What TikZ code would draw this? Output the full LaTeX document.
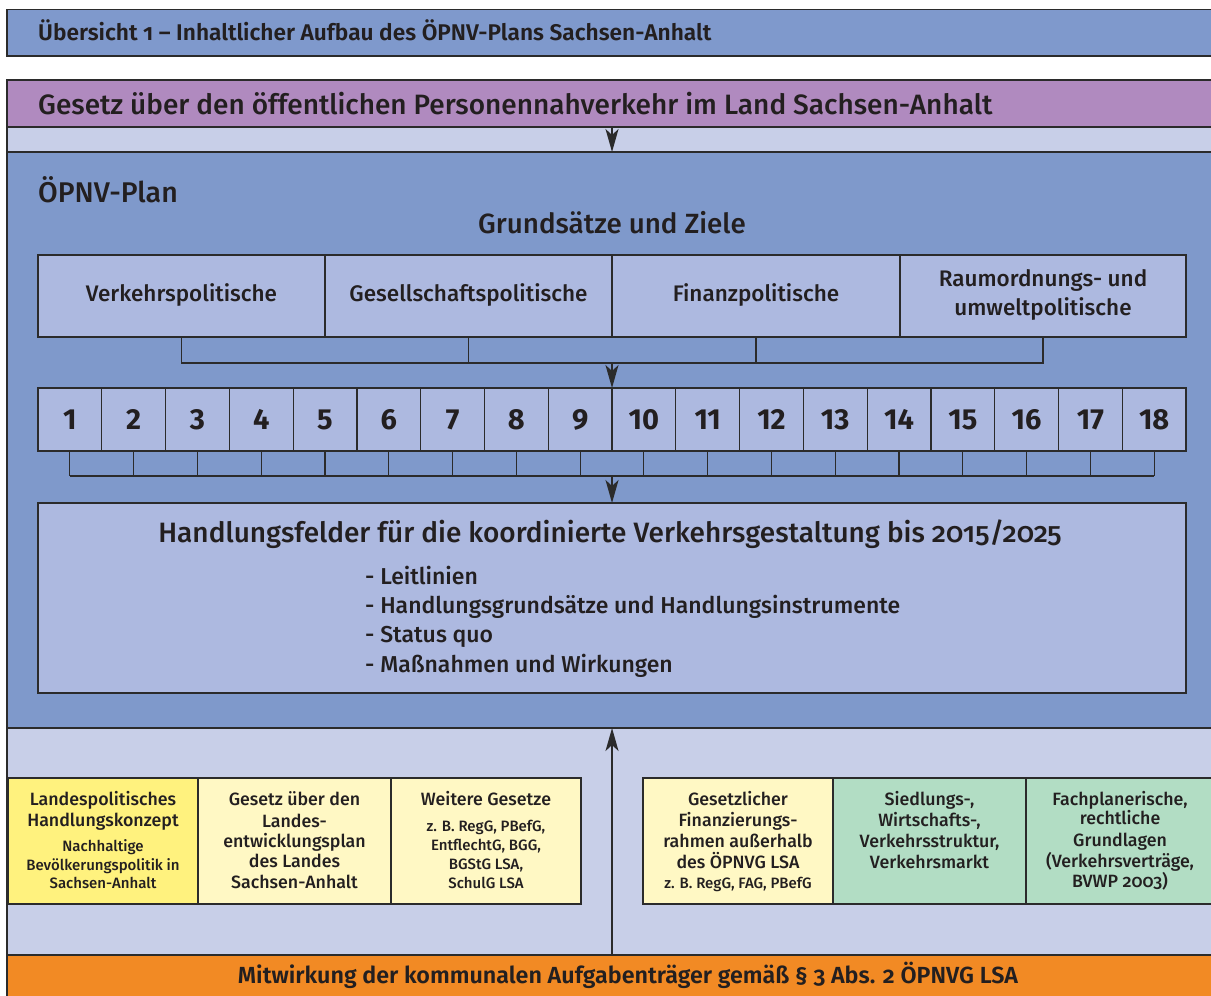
\documentclass[tikz,border=0pt]{standalone}
\usepackage{fontspec}
\setmainfont{Fira Sans}[UprightFont=* Medium, BoldFont=* SemiBold, Numbers=OldStyle]
\newfontfamily\numfont{Fira Sans}[UprightFont=* Bold, Numbers=Lining]
\usetikzlibrary{arrows.meta,calc}
\definecolor{titleblue}{HTML}{7F99CC}
\definecolor{purplebar}{HTML}{B08ABF}
\definecolor{strip}{HTML}{C8CFE8}
\definecolor{planblue}{HTML}{7F99CB}
\definecolor{cellblue}{HTML}{ADB9E0}
\definecolor{ystrong}{HTML}{FFF27E}
\definecolor{ylight}{HTML}{FFF8C4}
\definecolor{gfill}{HTML}{B2DDC4}
\definecolor{orng}{HTML}{F28A24}
\definecolor{lc}{HTML}{2B2B2B}
\definecolor{txt}{HTML}{231F20}
\newcommand\fsz[1]{\fontsize{#1}{#1}\selectfont}
\begin{document}
\begin{tikzpicture}[x=1pt,y=-1pt,
  box/.style={draw=lc, line width=1.2pt, inner sep=0pt, outer sep=0pt, anchor=north west},
  band/.style={box},
  lbl/.style={text=txt, inner sep=0pt, anchor=base},
  lblw/.style={text=txt, inner sep=0pt, anchor=base west},
  btxt/.style={lbl, font=\fsz{17.8}},
  bsm/.style={lbl, font=\fsz{15}},
  conn/.style={draw=lc, line width=1.1pt},
  connb/.style={draw=lc, line width=2pt},
  arr/.style={draw=lc, line width=1.8pt, -{Stealth[length=23pt,width=13pt,inset=6pt]}}]
\useasboundingbox (0,0) rectangle (1211,996);
\clip (0,0) rectangle (1211,996);
\fill[white] (0,0) rectangle (1211,996);
% title bar
\node[box, fill=titleblue, minimum width=1215pt, minimum height=46.5pt] (title) at (7,9.5) {};
\node[lblw, font=\fsz{22.7}\bfseries] (titletxt) at (38,40) {Übersicht 1 – Inhaltlicher Aufbau des ÖPNV-Plans Sachsen-Anhalt};
% bands
\node[band, fill=purplebar, minimum width=1215pt, minimum height=47pt] (gesetz) at (7,80) {};
\node[band, fill=strip, minimum width=1215pt, minimum height=25pt] (strip1) at (7,127) {};
\node[band, fill=planblue, minimum width=1215pt, minimum height=576pt] (plan) at (7,152) {};
\node[band, fill=strip, minimum width=1215pt, minimum height=227pt] (strip2) at (7,728) {};
\node[band, fill=orng, minimum width=1215pt, minimum height=50pt] (mitw) at (7,955) {};
\node[lblw, font=\fsz{28}] (gesetztxt) at (38,114.5) {Gesetz über den öffentlichen Personennahverkehr im Land Sachsen-Anhalt};
\node[lbl, font=\fsz{23.3}\bfseries] (mitwtxt) at (628,983) {Mitwirkung der kommunalen Aufgabenträger gemäß § 3 Abs. 2 ÖPNVG LSA};
% plan heading
\node[lblw, font=\fsz{28.5}] (plantxt) at (38,202) {ÖPNV-Plan};
\node[lbl, font=\fsz{27.8}] (ziele) at (612,233) {Grundsätze und Ziele};
% four policy boxes
\node[box, fill=cellblue, minimum width=287pt, minimum height=82pt] (p1) at (38,255) {};
\node[box, fill=cellblue, minimum width=287pt, minimum height=82pt] (p2) at (325,255) {};
\node[box, fill=cellblue, minimum width=288pt, minimum height=82pt] (p3) at (612,255) {};
\node[box, fill=cellblue, minimum width=286pt, minimum height=82pt] (p4) at (900,255) {};
\node[lbl, font=\fsz{22.5}] (p1t) at (181.5,301.5) {Verkehrspolitische};
\node[lbl, font=\fsz{22.5}] (p2t) at (468.5,301.5) {Gesellschaftspolitische};
\node[lbl, font=\fsz{22.5}] (p3t) at (756,301.5) {Finanzpolitische};
\node[lbl, font=\fsz{22.5}] (p4ta) at (1043,286.5) {Raumordnungs- und};
\node[lbl, font=\fsz{22.5}] (p4tb) at (1043,315.5) {umweltpolitische};
% bracket under policy boxes
\draw[conn] (p1.south) -- ++(0,26) coordinate (pb1) -- ($(p4.south)+(0,26)$) coordinate (pb4) -- (p4.south);
\draw[conn] (p2.south) -- ++(0,26);
\draw[conn] (p3.south) -- ++(0,26);
% number cells
\foreach \i in {1,...,18}{
  \node[box, fill=cellblue, minimum width=63.78pt, minimum height=63pt,
        font=\fsz{29}\numfont, text=txt] (n\i) at ({38+63.78*(\i-1)},388) {\i};
}
\draw[arr] ($(p2.south east)+(0,26)$) -- (n10.north west);
% bracket under number cells
\foreach \i in {1,...,18}{
  \draw[conn] (n\i.south) -- ++(0,25);
}
\draw[conn] ($(n1.south)+(0,25)$) -- ($(n18.south)+(0,25)$);
\foreach \a/\b in {1/3,4/5,6/7,8/9,10/11,12/13,14/15,16/17}{
  \draw[connb] ($(n\a.south)+(0,25)$) -- ($(n\b.south)+(0,25)$);
}
% Handlungsfelder
\node[box, fill=cellblue, minimum width=1148pt, minimum height=190pt] (hf) at (38,503) {};
\draw[arr] ($(n9.south east)+(0,25)$) -- (hf.north -| n10.west);
\node[lbl, font=\fsz{28}] (hft) at (610,542) {Handlungsfelder für die koordinierte Verkehrsgestaltung bis 2015/2025};
\node[lblw, font=\fsz{23}] (hf1) at (365,584) {- Leitlinien};
\node[lblw, font=\fsz{23}] (hf2) at (365,613.3) {- Handlungsgrundsätze und Handlungsinstrumente};
\node[lblw, font=\fsz{23}] (hf3) at (365,642.6) {- Status quo};
\node[lblw, font=\fsz{23}] (hf4) at (365,672) {- Maßnahmen und Wirkungen};
% bottom boxes
\node[box, fill=ystrong, minimum width=190pt, minimum height=126pt] (l1) at (8,778) {};
\node[box, fill=ylight, minimum width=193pt, minimum height=126pt] (l2) at (198,778) {};
\node[box, fill=ylight, minimum width=190pt, minimum height=126pt] (l3) at (391,778) {};
\node[box, fill=ylight, minimum width=190pt, minimum height=126pt] (r1) at (643,778) {};
\node[box, fill=gfill, minimum width=193pt, minimum height=126pt] (r2) at (833,778) {};
\node[box, fill=gfill, minimum width=188pt, minimum height=126pt] (r3) at (1026,778) {};
% texts l1
\node[btxt] (l1a) at (103,805.5) {Landespolitisches};
\node[btxt] (l1b) at (103,826.5) {Handlungskonzept};
\node[bsm] (l1c) at (103,851) {Nachhaltige};
\node[bsm] (l1d) at (103,870) {Bevölkerungspolitik in};
\node[bsm] (l1e) at (103,888.5) {Sachsen-Anhalt};
% texts l2
\node[btxt] (l2a) at (294.5,805.5) {Gesetz über den};
\node[btxt] (l2b) at (294.5,827) {Landes-};
\node[btxt] (l2c) at (294.5,847.5) {entwicklungsplan};
\node[btxt] (l2d) at (294.5,867.5) {des Landes};
\node[btxt] (l2e) at (294.5,888.5) {Sachsen-Anhalt};
% texts l3
\node[btxt] (l3a) at (486,805.5) {Weitere Gesetze};
\node[bsm] (l3b) at (486,831) {z. B. RegG, PBefG,};
\node[bsm] (l3c) at (486,850) {EntflechtG, BGG,};
\node[bsm] (l3d) at (486,869) {BGStG LSA,};
\node[bsm] (l3e) at (486,888) {SchulG LSA};
% texts r1
\node[btxt] (r1a) at (738,805.5) {Gesetzlicher};
\node[btxt] (r1b) at (738,826.5) {Finanzierungs-};
\node[btxt] (r1c) at (738,847.5) {rahmen außerhalb};
\node[btxt] (r1d) at (738,868.5) {des ÖPNVG LSA};
\node[bsm] (r1e) at (738,888) {z. B. RegG, FAG, PBefG};
% texts r2
\node[btxt] (r2a) at (929.5,805.5) {Siedlungs-,};
\node[btxt] (r2b) at (929.5,826.5) {Wirtschafts-,};
\node[btxt] (r2c) at (929.5,847.5) {Verkehrsstruktur,};
\node[btxt] (r2d) at (929.5,868.5) {Verkehrsmarkt};
% texts r3
\node[btxt] (r3a) at (1120,805.5) {Fachplanerische,};
\node[btxt] (r3b) at (1120,824.5) {rechtliche};
\node[btxt] (r3c) at (1120,846.5) {Grundlagen};
\node[btxt] (r3d) at (1120,867.5) {(Verkehrsverträge,};
\node[btxt] (r3e) at (1120,887.5) {BVWP 2003)};
% upward arrow and top arrow
\draw[arr] (mitw.north -| n10.west) -- (plan.south -| n10.west);
\draw[arr] (gesetz.south -| n10.west) -- (plan.north -| n10.west);
\end{tikzpicture}
\end{document}
